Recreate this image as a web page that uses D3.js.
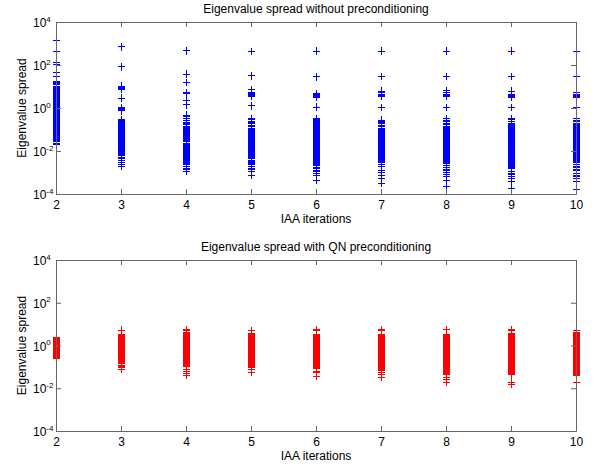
<!DOCTYPE html>
<html><head><meta charset="utf-8">
<script src="https://cdn.jsdelivr.net/npm/d3@7"></script>
<style>
body{margin:0;background:#fff}
svg{display:block}
text{font-family:"Liberation Sans",Arial,Helvetica,sans-serif}
</style>
</head><body>
<svg id="c" width="594" height="466"></svg>
<script>
// ---------- data ----------
const iterations = [2, 3, 4, 5, 6, 7, 8, 9, 10];
const xTickValues = [2, 3, 4, 5, 6, 7, 8, 9, 10];
const yTickExponents = [-4, -2, 0, 2, 4];
const titleTop = "Eigenvalue spread without preconditioning";
const titleBottom = "Eigenvalue spread with QN preconditioning";
const xLabelText = "IAA iterations";
const yLabelText = "Eigenvalue spread";

// log10(eigenvalue spread), without preconditioning, one array per IAA iteration
const noPre2 = [3.13, 2.62, 2.11, 2.03, 1.66, 1.46, 1.22, 1.17, 1.13, 1.08, 1.02, 0.97, 0.93, 0.9, 0.85, 0.81, 0.77, 0.72, 0.69, 0.64, 0.6, 0.57, 0.52, 0.48, 0.44, 0.41, 0.36, 0.32, 0.28, 0.25, 0.2, 0.16, 0.12, 0.09, 0.04, 0.0, -0.04, -0.08, -0.12, -0.15, -0.2, -0.24, -0.28, -0.31, -0.36, -0.4, -0.43, -0.48, -0.52, -0.56, -0.6, -0.63, -0.68, -0.72, -0.75, -0.8, -0.84, -0.88, -0.92, -0.96, -1.0, -1.04, -1.07, -1.12, -1.16, -1.2, -1.24, -1.28, -1.32, -1.36, -1.4, -1.44, -1.48, -1.53, -1.58, -1.64, -1.72];
const noPre3 = [2.85, 1.92, 1.01, 0.97, 0.94, 0.9, 0.87, 0.46, 0.02, -0.03, -0.08, -0.13, -0.53, -0.57, -0.6, -0.64, -0.68, -0.72, -0.76, -0.79, -0.83, -0.87, -0.91, -0.95, -0.99, -1.03, -1.06, -1.1, -1.14, -1.18, -1.22, -1.26, -1.3, -1.33, -1.37, -1.41, -1.45, -1.49, -1.53, -1.57, -1.6, -1.64, -1.68, -1.72, -1.76, -1.8, -1.84, -1.87, -1.91, -1.95, -1.99, -2.03, -2.07, -2.11, -2.15, -2.2, -2.28, -2.36, -2.44, -2.54, -2.62, -2.7];
const noPre4 = [2.66, 1.57, 1.18, 0.73, 0.7, 0.66, 0.33, 0.14, -0.33, -0.4, -0.48, -0.6, -0.66, -0.72, -0.79, -0.87, -0.9, -0.95, -0.98, -1.03, -1.06, -1.1, -1.15, -1.18, -1.22, -1.27, -1.3, -1.34, -1.39, -1.42, -1.46, -1.51, -1.54, -1.58, -1.63, -1.66, -1.7, -1.75, -1.78, -1.82, -1.87, -1.9, -1.94, -1.99, -2.02, -2.06, -2.11, -2.14, -2.18, -2.23, -2.26, -2.3, -2.35, -2.38, -2.42, -2.47, -2.5, -2.55, -2.6, -2.65, -2.72, -2.8, -2.88, -2.96];
const noPre5 = [2.63, 1.49, 0.86, 0.72, 0.68, 0.63, 0.58, 0.54, 0.1, -0.48, -0.55, -0.62, -0.68, -0.74, -0.8, -0.87, -0.94, -0.98, -1.02, -1.05, -1.1, -1.13, -1.17, -1.22, -1.25, -1.29, -1.34, -1.37, -1.41, -1.46, -1.49, -1.53, -1.58, -1.61, -1.65, -1.7, -1.73, -1.77, -1.82, -1.85, -1.89, -1.94, -1.97, -2.01, -2.06, -2.09, -2.13, -2.18, -2.21, -2.25, -2.3, -2.33, -2.37, -2.42, -2.45, -2.49, -2.54, -2.58, -2.62, -2.65, -2.73, -2.81, -2.88, -2.96, -3.12];
const noPre6 = [2.65, 1.45, 0.68, 0.63, 0.58, 0.53, 0.48, 0.04, -0.5, -0.55, -0.6, -0.64, -0.68, -0.72, -0.76, -0.8, -0.84, -0.88, -0.92, -0.96, -1.0, -1.03, -1.07, -1.11, -1.15, -1.19, -1.23, -1.27, -1.31, -1.35, -1.39, -1.42, -1.46, -1.5, -1.54, -1.58, -1.62, -1.66, -1.7, -1.74, -1.78, -1.82, -1.85, -1.89, -1.93, -1.97, -2.01, -2.05, -2.09, -2.13, -2.17, -2.21, -2.25, -2.28, -2.32, -2.36, -2.4, -2.44, -2.48, -2.52, -2.56, -2.6, -2.64, -2.68, -2.75, -2.82, -2.9, -2.97, -3.05, -3.12, -3.35];
const noPre7 = [2.65, 1.46, 0.79, 0.72, 0.65, 0.59, 0.53, 0.03, -0.56, -0.62, -0.68, -0.74, -0.8, -0.86, -0.94, -0.97, -1.01, -1.05, -1.09, -1.13, -1.17, -1.21, -1.25, -1.29, -1.32, -1.36, -1.4, -1.44, -1.48, -1.52, -1.56, -1.6, -1.64, -1.67, -1.71, -1.75, -1.79, -1.83, -1.87, -1.91, -1.95, -1.99, -2.03, -2.07, -2.1, -2.14, -2.18, -2.22, -2.26, -2.3, -2.34, -2.38, -2.42, -2.46, -2.5, -2.54, -2.65, -2.73, -2.93, -2.99, -3.15, -3.3, -3.5];
const noPre8 = [2.65, 1.46, 0.8, 0.72, 0.62, 0.6, 0.57, 0.55, 0.53, 0.03, -0.5, -0.57, -0.64, -0.71, -0.78, -0.84, -0.88, -0.92, -0.96, -1.0, -1.04, -1.08, -1.12, -1.15, -1.19, -1.23, -1.27, -1.31, -1.35, -1.39, -1.43, -1.47, -1.51, -1.55, -1.58, -1.62, -1.66, -1.7, -1.74, -1.78, -1.82, -1.86, -1.9, -1.94, -1.98, -2.01, -2.05, -2.09, -2.13, -2.17, -2.21, -2.25, -2.29, -2.33, -2.37, -2.41, -2.44, -2.48, -2.52, -2.56, -2.6, -2.68, -2.75, -2.85, -2.93, -3.0, -3.1, -3.2, -3.38, -3.66];
const noPre9 = [2.65, 1.46, 0.78, 0.64, 0.6, 0.57, 0.54, 0.51, 0.48, 0.03, -0.48, -0.55, -0.62, -0.7, -0.79, -0.83, -0.87, -0.91, -0.95, -0.99, -1.03, -1.07, -1.11, -1.14, -1.18, -1.22, -1.26, -1.3, -1.34, -1.38, -1.42, -1.46, -1.5, -1.54, -1.57, -1.61, -1.65, -1.69, -1.73, -1.77, -1.81, -1.85, -1.89, -1.93, -1.97, -2.0, -2.04, -2.08, -2.12, -2.16, -2.2, -2.24, -2.28, -2.32, -2.36, -2.4, -2.43, -2.47, -2.51, -2.55, -2.59, -2.63, -2.67, -2.71, -2.75, -2.8, -2.96, -3.03, -3.1, -3.2, -3.3, -3.43, -3.74];
const noPre10 = [2.65, 1.46, 0.7, 0.62, 0.57, 0.52, 0.48, 0.03, -0.5, -0.57, -0.64, -0.72, -0.79, -0.83, -0.87, -0.91, -0.95, -0.99, -1.03, -1.07, -1.11, -1.15, -1.19, -1.22, -1.26, -1.3, -1.34, -1.38, -1.42, -1.46, -1.5, -1.54, -1.58, -1.62, -1.66, -1.69, -1.73, -1.77, -1.81, -1.85, -1.89, -1.93, -1.97, -2.01, -2.05, -2.09, -2.13, -2.16, -2.2, -2.24, -2.28, -2.32, -2.36, -2.4, -2.44, -2.48, -2.52, -2.55, -2.62, -2.7, -2.78, -2.85, -2.92, -3.04, -3.12, -3.2, -3.3, -3.4, -3.77];

// log10(eigenvalue spread) with QN preconditioning, one array per IAA iteration
const qn2 = [0.37, 0.33, 0.29, 0.25, 0.21, 0.17, 0.13, 0.09, 0.05, 0.01, -0.03, -0.07, -0.11, -0.15, -0.19, -0.23, -0.27, -0.31, -0.35, -0.39, -0.43, -0.47, -0.51, -0.55, -0.61];
const qn3 = [0.72, 0.53, 0.49, 0.45, 0.41, 0.37, 0.33, 0.29, 0.25, 0.21, 0.17, 0.13, 0.09, 0.05, 0.01, -0.03, -0.07, -0.11, -0.15, -0.19, -0.23, -0.27, -0.31, -0.35, -0.39, -0.43, -0.47, -0.51, -0.55, -0.59, -0.63, -0.67, -0.71, -0.75, -0.79, -0.84, -0.92, -1.0, -1.05, -1.12];
const qn4 = [0.75, 0.68, 0.6, 0.56, 0.52, 0.48, 0.44, 0.4, 0.36, 0.32, 0.28, 0.24, 0.2, 0.16, 0.12, 0.08, 0.04, 0.0, -0.04, -0.08, -0.12, -0.16, -0.2, -0.24, -0.28, -0.32, -0.36, -0.4, -0.44, -0.48, -0.52, -0.56, -0.6, -0.64, -0.68, -0.72, -0.76, -0.8, -0.85, -0.9, -0.95, -1.0, -1.1, -1.2, -1.3, -1.39];
const qn5 = [0.69, 0.55, 0.51, 0.47, 0.43, 0.39, 0.35, 0.31, 0.27, 0.23, 0.19, 0.15, 0.11, 0.07, 0.03, -0.01, -0.05, -0.09, -0.13, -0.17, -0.21, -0.25, -0.29, -0.33, -0.37, -0.41, -0.45, -0.49, -0.53, -0.57, -0.61, -0.65, -0.69, -0.73, -0.77, -0.81, -0.85, -0.89, -0.93, -0.97, -1.01, -1.05, -1.1, -1.24];
const qn6 = [0.75, 0.69, 0.53, 0.49, 0.45, 0.41, 0.37, 0.33, 0.29, 0.25, 0.21, 0.17, 0.13, 0.09, 0.05, 0.01, -0.03, -0.07, -0.11, -0.15, -0.19, -0.23, -0.27, -0.31, -0.35, -0.39, -0.43, -0.47, -0.51, -0.55, -0.59, -0.63, -0.67, -0.71, -0.75, -0.79, -0.83, -0.87, -0.91, -0.95, -0.99, -1.03, -1.08, -1.2, -1.28, -1.44];
const qn7 = [0.75, 0.68, 0.5, 0.46, 0.42, 0.38, 0.34, 0.3, 0.26, 0.22, 0.18, 0.14, 0.1, 0.06, 0.02, -0.02, -0.06, -0.1, -0.14, -0.18, -0.22, -0.26, -0.3, -0.34, -0.38, -0.42, -0.46, -0.5, -0.54, -0.58, -0.62, -0.66, -0.7, -0.74, -0.78, -0.82, -0.86, -0.9, -0.94, -0.98, -1.02, -1.06, -1.1, -1.15, -1.24, -1.35, -1.5];
const qn8 = [0.75, 0.53, 0.49, 0.45, 0.41, 0.37, 0.33, 0.29, 0.25, 0.21, 0.17, 0.13, 0.09, 0.05, 0.01, -0.03, -0.07, -0.11, -0.15, -0.19, -0.23, -0.27, -0.31, -0.35, -0.39, -0.43, -0.47, -0.51, -0.55, -0.59, -0.63, -0.67, -0.71, -0.75, -0.79, -0.83, -0.87, -0.91, -0.95, -0.99, -1.03, -1.07, -1.11, -1.15, -1.19, -1.23, -1.27, -1.31, -1.35, -1.5, -1.6, -1.71];
const qn9 = [0.75, 0.7, 0.56, 0.52, 0.48, 0.44, 0.4, 0.36, 0.32, 0.28, 0.24, 0.2, 0.16, 0.12, 0.08, 0.04, 0.0, -0.04, -0.08, -0.12, -0.16, -0.2, -0.24, -0.28, -0.32, -0.36, -0.4, -0.44, -0.48, -0.52, -0.56, -0.6, -0.64, -0.68, -0.72, -0.76, -0.8, -0.84, -0.88, -0.92, -0.96, -1.0, -1.04, -1.08, -1.12, -1.16, -1.2, -1.24, -1.28, -1.32, -1.35, -1.71, -1.81];
const qn10 = [0.72, 0.6, 0.56, 0.52, 0.48, 0.44, 0.4, 0.36, 0.32, 0.28, 0.24, 0.2, 0.16, 0.12, 0.08, 0.04, 0.0, -0.04, -0.08, -0.12, -0.16, -0.2, -0.24, -0.28, -0.32, -0.36, -0.4, -0.44, -0.48, -0.52, -0.56, -0.6, -0.64, -0.68, -0.72, -0.76, -0.8, -0.84, -0.88, -0.92, -0.96, -1.0, -1.04, -1.08, -1.12, -1.16, -1.2, -1.24, -1.28, -1.32, -1.36, -1.42, -1.73];

const noPreSeries = [noPre2, noPre3, noPre4, noPre5, noPre6, noPre7, noPre8, noPre9, noPre10];
const qnSeries = [qn2, qn3, qn4, qn5, qn6, qn7, qn8, qn9, qn10];

// ---------- drawing ----------
const svg = d3.select("#c");
const plotLeft = 56, plotRight = 576;
const axisColor = "#666";
const fontSize = 12;

const panels = [
  { title: titleTop, series: noPreSeries, color: "#0000ff", top: 22, bottom: 194 },
  { title: titleBottom, series: qnSeries, color: "#ff0000", top: 260, bottom: 431 }
];

panels.forEach(p => {
  const x = d3.scaleLinear().domain([2, 10]).range([plotLeft, plotRight]);
  const y = d3.scaleLog().domain([1e-4, 1e4]).range([p.bottom, p.top]);
  const g = svg.append("g");

  const pts = [];
  p.series.forEach((arr, i) => arr.forEach(e => pts.push({ it: iterations[i], v: Math.pow(10, e) })));

  g.append("g").attr("shape-rendering", "crispEdges")
    .selectAll("path").data(pts).join("path")
    .attr("transform", d => `translate(${x(d.it) + 0.5},${y(d.v)})`)
    .attr("d", "M-3.8,0H3.8M0,-3.8V3.8")
    .attr("fill", "none")
    .attr("stroke", p.color)
    .attr("stroke-width", 1);

  const yTicks = yTickExponents.map(e => Math.pow(10, e));

  const styleAxis = sel => {
    sel.select(".domain").attr("stroke", axisColor);
    sel.selectAll(".tick line").attr("stroke", axisColor);
    sel.selectAll("text").attr("fill", "#000").attr("font-size", fontSize)
      .attr("font-family", '"Liberation Sans", Arial, sans-serif');
  };

  const gb = g.append("g").attr("transform", `translate(0,${p.bottom})`)
    .call(d3.axisBottom(x).tickValues(xTickValues).tickSize(-5).tickSizeOuter(0).tickPadding(6).tickFormat(d3.format("d")));
  styleAxis(gb);

  const gt = g.append("g").attr("transform", `translate(0,${p.top})`)
    .call(d3.axisTop(x).tickValues(xTickValues).tickSize(-5).tickSizeOuter(0).tickFormat(() => ""));
  styleAxis(gt);

  const gl = g.append("g").attr("transform", `translate(${plotLeft},0)`)
    .call(d3.axisLeft(y).tickValues(yTicks).tickSize(-5).tickSizeOuter(0).tickFormat(() => ""));
  styleAxis(gl);
  gl.selectAll(".tick").each(function (d) {
    const t = d3.select(this).select("text");
    t.attr("text-anchor", "start").attr("x", -23).attr("dy", "0.38em").text(null);
    t.append("tspan").text("10");
    t.append("tspan").attr("dy", -5.5).attr("font-size", 8).text(String(Math.round(Math.log10(d))));
  });

  const gr = g.append("g").attr("transform", `translate(${plotRight},0)`)
    .call(d3.axisRight(y).tickValues(yTicks).tickSize(-5).tickSizeOuter(0).tickFormat(() => ""));
  styleAxis(gr);

  g.append("text").attr("x", (plotLeft + plotRight) / 2).attr("y", p.top - 9.5)
    .attr("text-anchor", "middle").attr("font-size", fontSize).attr("fill", "#000").text(p.title);
  g.append("text").attr("x", (plotLeft + plotRight) / 2).attr("y", p.bottom + 28.5)
    .attr("text-anchor", "middle").attr("font-size", fontSize).attr("fill", "#000").text(xLabelText);
  g.append("text").attr("transform", `translate(26,${(p.top + p.bottom) / 2}) rotate(-90)`)
    .attr("text-anchor", "middle").attr("font-size", fontSize).attr("fill", "#000").text(yLabelText);
});
</script>
</body></html>
